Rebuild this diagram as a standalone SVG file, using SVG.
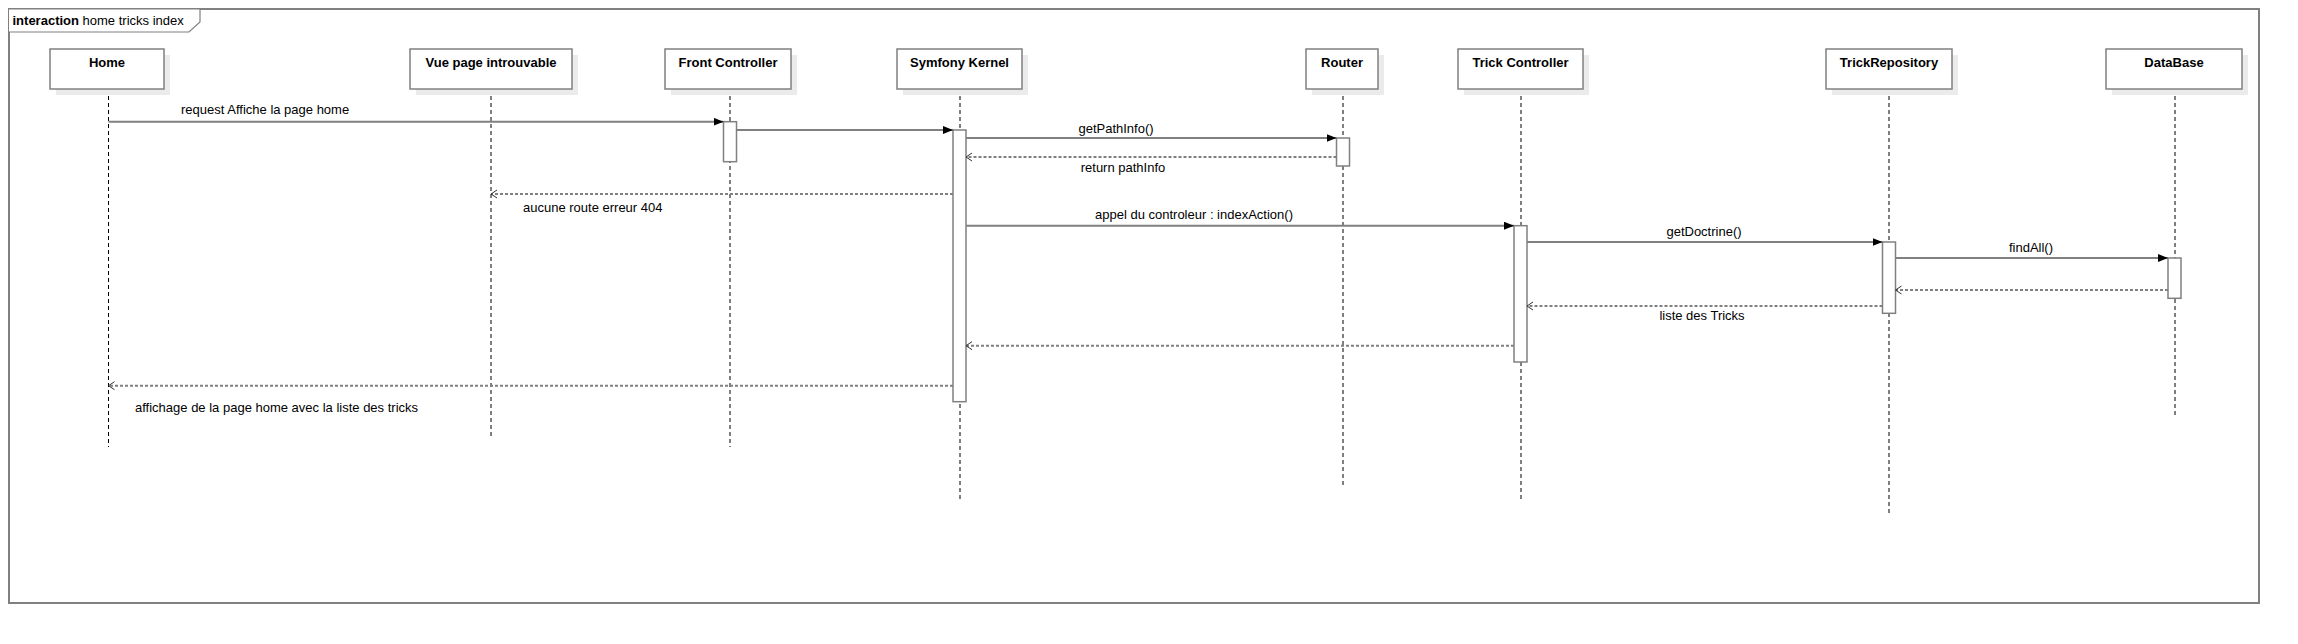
<svg xmlns="http://www.w3.org/2000/svg" width="2298" height="644" viewBox="0 0 2298 644">
<style>
text{font-family:"Liberation Sans",Arial,sans-serif;fill:#000}
.hd{font-size:13px;font-weight:bold;text-anchor:middle}
.lb{font-size:13px}
.box{fill:#fff;stroke:#808080;stroke-width:1.5}
.sh{fill:#ebebeb;stroke:none}
.life{stroke:#000;stroke-width:1;stroke-dasharray:4 3;fill:none}
.act{fill:#fff;stroke:#808080;stroke-width:1.5}
.msg{stroke:#808080;stroke-width:2;fill:none;marker-end:url(#sync)}
.ret{stroke:#808080;stroke-width:2;stroke-dasharray:3 2;fill:none;marker-end:url(#open)}
</style>
<defs>
<marker id="sync" markerUnits="userSpaceOnUse" markerWidth="11" markerHeight="9" refX="10" refY="4" orient="auto">
<path d="M0,0 L10,4 L0,8 z" fill="#000"/>
</marker>
<marker id="open" markerUnits="userSpaceOnUse" markerWidth="10" markerHeight="10" refX="7" refY="5" orient="auto">
<path d="M1,1 L7,5 L1,9" fill="none" stroke="#333" stroke-width="1"/>
</marker>
</defs>
<rect width="2298" height="644" fill="#fff"/>
<g id="frame">
<rect x="9" y="9" width="2250" height="594" fill="none" stroke="#808080" stroke-width="2"/>
<path d="M9,9 L200,9 L200,22 L189,32 L9,32" fill="#fff" stroke="#808080" stroke-width="1.2"/>
<text x="12.5" y="25" class="lb"><tspan font-weight="bold">interaction</tspan> home tricks index</text>
</g>
<g id="lifelines">
<line class="life" x1="108.5" y1="89" x2="108.5" y2="447"/>
<line class="life" x1="491" y1="89" x2="491" y2="438"/>
<line class="life" x1="730" y1="89" x2="730" y2="447"/>
<line class="life" x1="960" y1="89" x2="960" y2="500"/>
<line class="life" x1="1343" y1="89" x2="1343" y2="487"/>
<line class="life" x1="1521" y1="89" x2="1521" y2="500"/>
<line class="life" x1="1889" y1="89" x2="1889" y2="513"/>
<line class="life" x1="2175" y1="89" x2="2175" y2="415"/>
</g>
<g id="home"><rect class="sh" x="56" y="55" width="114" height="40"/><rect class="box" x="50" y="49" width="114" height="40"/><text class="hd" x="107" y="67">Home</text></g>
<g id="vue"><rect class="sh" x="416" y="55" width="162" height="40"/><rect class="box" x="410" y="49" width="162" height="40"/><text class="hd" x="491" y="67">Vue page introuvable</text></g>
<g id="front"><rect class="sh" x="671" y="55" width="126" height="40"/><rect class="box" x="665" y="49" width="126" height="40"/><text class="hd" x="728" y="67">Front Controller</text></g>
<g id="kernel"><rect class="sh" x="903" y="55" width="125" height="40"/><rect class="box" x="897" y="49" width="125" height="40"/><text class="hd" x="959.5" y="67">Symfony Kernel</text></g>
<g id="router"><rect class="sh" x="1312" y="55" width="72" height="40"/><rect class="box" x="1306" y="49" width="72" height="40"/><text class="hd" x="1342" y="67">Router</text></g>
<g id="trick"><rect class="sh" x="1464" y="55" width="125" height="40"/><rect class="box" x="1458" y="49" width="125" height="40"/><text class="hd" x="1520.5" y="67">Trick Controller</text></g>
<g id="repo"><rect class="sh" x="1832" y="55" width="126" height="40"/><rect class="box" x="1826" y="49" width="126" height="40"/><text class="hd" x="1889" y="67">TrickRepository</text></g>
<g id="db"><rect class="sh" x="2112" y="55" width="136" height="40"/><rect class="box" x="2106" y="49" width="136" height="40"/><text class="hd" x="2174" y="67">DataBase</text></g>
<g id="activations">
<rect class="act" x="723.5" y="121.7" width="13" height="40"/>
<rect class="act" x="953" y="130" width="13" height="271.7"/>
<rect class="act" x="1336.5" y="138" width="13" height="28"/>
<rect class="act" x="1514" y="225.7" width="13" height="136.3"/>
<rect class="act" x="1882.5" y="242" width="13" height="71.3"/>
<rect class="act" x="2168" y="258" width="13" height="40.3"/>
</g>
<g id="connectors">
<line class="msg" x1="108.5" y1="121.7" x2="723.5" y2="121.7"/>
<line class="msg" x1="736.5" y1="130" x2="953" y2="130"/>
<line class="msg" x1="966" y1="138" x2="1336.5" y2="138"/>
<line class="ret" x1="1336.5" y1="157" x2="966" y2="157"/>
<line class="ret" x1="953" y1="194" x2="491" y2="194"/>
<line class="msg" x1="966" y1="225.7" x2="1514" y2="225.7"/>
<line class="msg" x1="1527" y1="242" x2="1882.5" y2="242"/>
<line class="msg" x1="1895.5" y1="258" x2="2168" y2="258"/>
<line class="ret" x1="2168" y1="290" x2="1895.5" y2="290"/>
<line class="ret" x1="1882.5" y1="306" x2="1527" y2="306"/>
<line class="ret" x1="1514" y1="345.7" x2="966" y2="345.7"/>
<line class="ret" x1="953" y1="385.7" x2="108.5" y2="385.7"/>
<text class="lb" x="181" y="114.3">request Affiche la page home</text>
<text class="lb" x="1116" y="133" text-anchor="middle">getPathInfo()</text>
<text class="lb" x="1123" y="171.7" text-anchor="middle">return pathInfo</text>
<text class="lb" x="523" y="212">aucune route erreur 404</text>
<text class="lb" x="1194" y="219" text-anchor="middle">appel du controleur : indexAction()</text>
<text class="lb" x="1704" y="236" text-anchor="middle">getDoctrine()</text>
<text class="lb" x="2031" y="252" text-anchor="middle">findAll()</text>
<text class="lb" x="1702" y="320" text-anchor="middle">liste des Tricks</text>
<text class="lb" x="135" y="412">affichage de la page home avec la liste des tricks</text>
</g>
</svg>
